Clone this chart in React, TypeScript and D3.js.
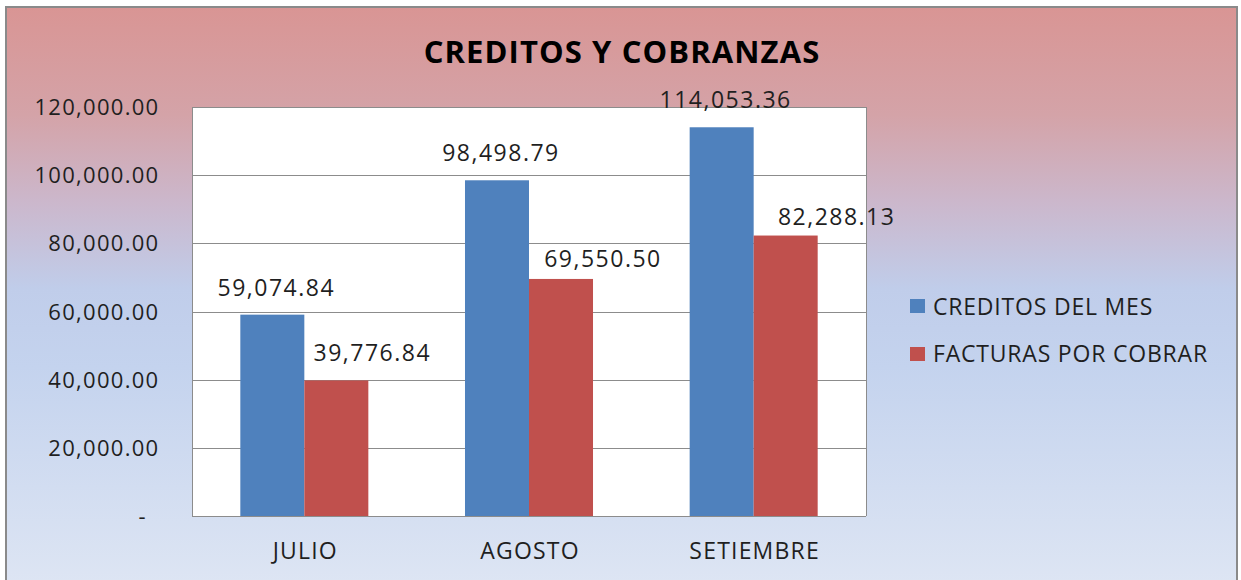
import React from "react";
import * as d3 from "d3";

const categories = ["JULIO", "AGOSTO", "SETIEMBRE"];
const seriesNames = ["CREDITOS DEL MES", "FACTURAS POR COBRAR"];
const creditosDelMes = [59074.84, 98498.79, 114053.36];
const facturasPorCobrar = [39776.84, 69550.5, 82288.13];
const yTicks = [0, 20000, 40000, 60000, 80000, 100000, 120000];
const title = "CREDITOS Y COBRANZAS";

const seriesColors = ["#4F81BD", "#C0504D"];
// manual label nudges (as placed in the original chart)
const labelNudgeX = [[0, 0, 0], [32, 38, 47]];
const labelNudgeY = [[0, 0, 0], [0, 7, 8.5]];

const W = 1241;
const H = 580;
const plot = { left: 192, right: 866, top: 107, bottom: 516 };
const FONT = "'Open Sans', 'DejaVu Sans', sans-serif";
const TEXT = "#1f1f1f";

const fmt = d3.format(",.2f");

export default function App() {
  const values = [creditosDelMes, facturasPorCobrar];
  const x0 = d3.scaleBand<string>().domain(categories).range([plot.left, plot.right]).padding(0);
  const x1 = d3
    .scaleBand<string>()
    .domain(seriesNames)
    .range([0, x0.bandwidth()])
    .paddingInner(0)
    .paddingOuter(0.755);
  const y = d3.scaleLinear().domain([0, 120000]).range([plot.bottom, plot.top]);

  return (
    <svg
      width={W}
      height={H}
      style={{ position: "absolute", left: 0, top: 0, background: "#fff" }}
      fontFamily={FONT}
    >
      <defs>
        <linearGradient id="bg" x1="0" y1="0" x2="0" y2="1">
          <stop offset="0%" stopColor="#D99594" />
          <stop offset="18%" stopColor="#D4A3A8" />
          <stop offset="33%" stopColor="#CBB8CD" />
          <stop offset="47%" stopColor="#C0CDEA" />
          <stop offset="60%" stopColor="#C4D3EE" />
          <stop offset="100%" stopColor="#E0E7F4" />
        </linearGradient>
      </defs>
      <rect x={6} y={7} width={1231} height={600} fill="url(#bg)" stroke="#8A8A8A" strokeWidth={2} />

      <text
        x={622}
        y={63}
        textAnchor="middle"
        fontSize={31}
        fontWeight="bold"
        letterSpacing={1.1}
        fill="#000"
      >
        {title}
      </text>

      {/* plot area */}
      <rect
        x={plot.left}
        y={plot.top}
        width={plot.right - plot.left}
        height={plot.bottom - plot.top}
        fill="#fff"
      />
      {yTicks.map((t) => (
        <line
          key={"g" + t}
          x1={plot.left}
          x2={plot.right}
          y1={Math.round(y(t)) + 0.5}
          y2={Math.round(y(t)) + 0.5}
          stroke="#8C8C8C"
          strokeWidth={1}
        />
      ))}
      <line x1={plot.left + 0.5} x2={plot.left + 0.5} y1={plot.top} y2={plot.bottom} stroke="#8C8C8C" />
      <line x1={plot.right + 0.5} x2={plot.right + 0.5} y1={plot.top} y2={plot.bottom} stroke="#8C8C8C" />

      {/* y tick labels */}
      {yTicks.map((t) => (
        <text
          key={"yt" + t}
          x={t === 0 ? 147 : 159.5}
          y={y(t) + 8}
          textAnchor="end"
          fontSize={22}
          letterSpacing={1.3}
          fill={TEXT}
        >
          {t === 0 ? "-" : fmt(t)}
        </text>
      ))}

      {/* bars */}
      {categories.map((c, i) => (
        <g key={c}>
          {seriesNames.map((s, k) => {
            const v = values[k][i];
            const bx = (x0(c) ?? 0) + (x1(s) ?? 0);
            return (
              <rect
                key={s}
                x={bx}
                y={y(v)}
                width={x1.bandwidth()}
                height={plot.bottom - y(v)}
                fill={seriesColors[k]}
              />
            );
          })}
        </g>
      ))}

      {/* data labels */}
      {categories.map((c, i) =>
        seriesNames.map((s, k) => {
          const v = values[k][i];
          const cx = (x0(c) ?? 0) + (x1(s) ?? 0) + x1.bandwidth() / 2 + 4 + labelNudgeX[k][i];
          const by = y(v) - 19 + labelNudgeY[k][i];
          return (
            <text
              key={c + s}
              x={cx}
              y={by}
              textAnchor="middle"
              fontSize={23}
              letterSpacing={1.5}
              fill={TEXT}
            >
              {fmt(v)}
            </text>
          );
        })
      )}

      {/* x labels */}
      {categories.map((c) => (
        <text
          key={"xl" + c}
          x={(x0(c) ?? 0) + x0.bandwidth() / 2 + 1}
          y={559}
          textAnchor="middle"
          fontSize={23}
          letterSpacing={1.2}
          fill={TEXT}
        >
          {c}
        </text>
      ))}

      {/* legend */}
      {seriesNames.map((s, k) => (
        <g key={"lg" + s}>
          <rect x={910} y={299 + k * 48} width={15} height={14} fill={seriesColors[k]} />
          <text x={933} y={315 + k * 47} fontSize={23} letterSpacing={0.8} fill={TEXT}>
            {s}
          </text>
        </g>
      ))}
    </svg>
  );
}
